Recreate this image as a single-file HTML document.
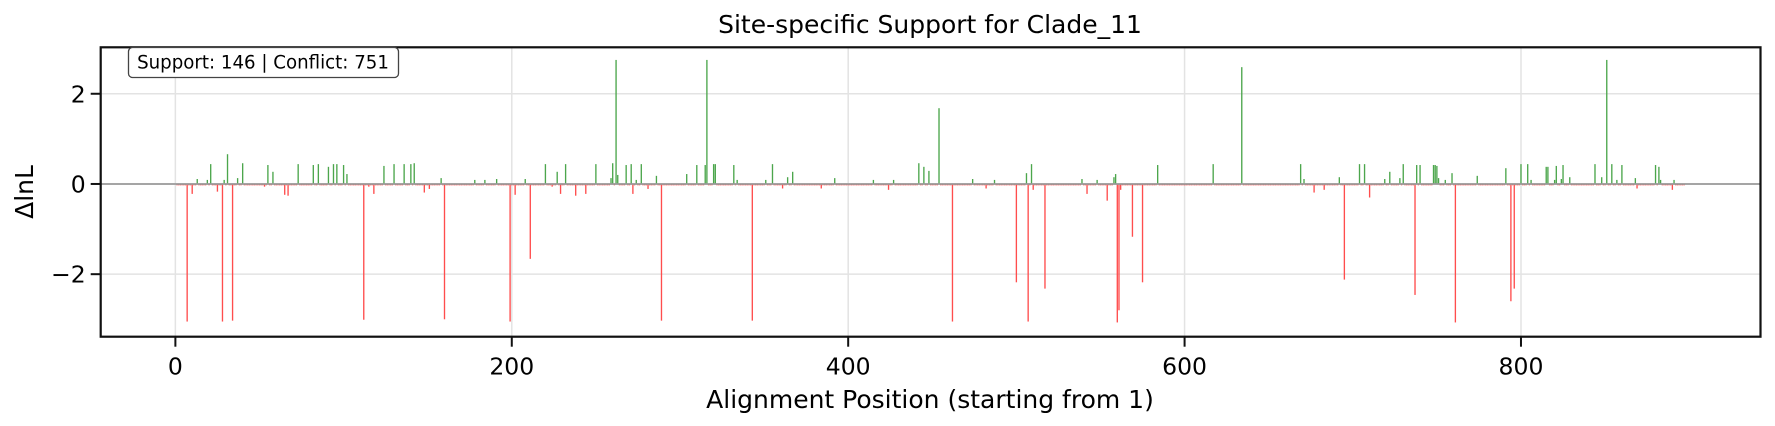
<!DOCTYPE html>
<html><head><meta charset="utf-8"><style>
html,body{margin:0;padding:0;background:#fff;}
svg{display:block;font-family:"DejaVu Sans","Liberation Sans",sans-serif;}
</style></head><body>
<svg id="chart" width="1775" height="426" viewBox="0 0 1775 426" xmlns="http://www.w3.org/2000/svg">
<text x="930" y="33" text-anchor="middle" font-size="25" fill="#000">Site-specific Support for Clade_11</text>
<g id="grid"></g>
<g id="bars"></g>
<g id="axes"></g>
<text transform="translate(33,192) rotate(-90)" text-anchor="middle" font-size="25" fill="#000">ΔlnL</text>
<text x="930" y="408" text-anchor="middle" font-size="25" fill="#000">Alignment Position (starting from 1)</text>
<g>
<rect x="128.5" y="47.5" width="270" height="30" rx="4" fill="#fff" stroke="#444" stroke-width="1.3"/>
<text x="263" y="68.5" text-anchor="middle" font-size="18.2" fill="#000">Support: 146 | Conflict: 751</text>
</g>
</svg>
<script>
const sitePositions = [7,10,13,19,21,25,28,29,31,34,37,40,53,55,58,65,67,73,82,85,91,94,96,100,102,112,115,118,124,130,136,140,142,148,151,158,160,178,184,191,199,202,208,211,220,224,227,229,232,238,244,250,259,260,262,263,268,271,272,274,277,281,286,289,304,310,315,316,320,321,332,334,343,351,355,361,364,367,384,392,415,424,427,442,445,448,454,462,474,482,487,500,506,507,509,510,517,539,542,548,554,558,559,560,561,562,569,575,584,617,634,669,671,677,683,692,695,704,707,710,719,722,728,730,737,738,740,748,749,750,751,755,759,761,774,791,794,796,800,804,806,815,816,820,821,824,825,829,844,848,851,854,857,860,868,869,880,882,883,890,891];
const siteValues = [-3.05,-0.22,0.11,0.09,0.44,-0.17,-3.05,0.09,0.66,-3.03,0.13,0.46,-0.06,0.42,0.27,-0.24,-0.26,0.44,0.42,0.44,0.38,0.44,0.44,0.42,0.22,-3.01,-0.06,-0.22,0.40,0.44,0.44,0.44,0.46,-0.19,-0.11,0.13,-3.0,0.09,0.09,0.11,-3.05,-0.24,0.11,-1.66,0.44,-0.06,0.27,-0.22,0.44,-0.26,-0.22,0.44,0.13,0.46,2.75,0.2,0.42,0.44,-0.22,0.09,0.44,-0.11,0.18,-3.03,0.22,0.42,0.42,2.75,0.44,0.44,0.42,0.09,-3.03,0.09,0.44,-0.1,0.15,0.27,-0.1,0.13,0.09,-0.13,0.09,0.46,0.38,0.29,1.68,-3.05,0.11,-0.1,0.09,-2.18,0.24,-3.05,0.44,-0.13,-2.32,0.11,-0.22,0.09,-0.37,0.15,0.22,-3.07,-2.8,-0.13,-1.17,-2.18,0.42,0.44,2.59,0.44,0.11,-0.19,-0.13,0.15,-2.12,0.44,0.44,-0.30,0.11,0.27,0.13,0.44,-2.46,0.42,0.42,0.42,0.42,0.40,0.13,0.09,0.24,-3.07,0.18,0.35,-2.6,-2.32,0.44,0.44,0.09,0.38,0.38,0.09,0.40,0.11,0.42,0.15,0.44,0.15,2.75,0.44,0.09,0.42,0.13,-0.1,0.42,0.38,0.09,-0.13,0.09];
const siteCount = [897];
const baselineValue = [-0.03];
const xTicks = [0,200,400,600,800];
const yTicks = [-2,0,2];
const yTickLabels = ["\u22122","0","2"];

const NS='http://www.w3.org/2000/svg';
const L=100.7,R=1760.5,T=47.3,B=336.7;
const xMin=-44.4,xMax=942.4,yMin=-3.386,yMax=3.03;
function xs(v){return L+(v-xMin)/(xMax-xMin)*(R-L);}
function ys(v){return T+(yMax-v)/(yMax-yMin)*(B-T);}
function mk(tag,attrs,parent){const e=document.createElementNS(NS,tag);for(const k in attrs)e.setAttribute(k,attrs[k]);parent.appendChild(e);return e;}
const grid=document.getElementById('grid'),bars=document.getElementById('bars'),axes=document.getElementById('axes');
xTicks.forEach(t=>{
  const g=mk('line',{x1:xs(t),x2:xs(t),y1:T,y2:B,stroke:'#e3e3e3','stroke-width':1.5},grid);
  
  
});
yTicks.forEach(t=>{
  const g=mk('line',{x1:L,x2:R,y1:ys(t),y2:ys(t),stroke:'#e3e3e3','stroke-width':1.5},grid);
  
  
});
const valMap={};
sitePositions.forEach((p,i)=>{valMap[p]=siteValues[i];});
const bw=0.8;
for(let p=1;p<=siteCount[0];p++){
  const v=(p in valMap)?valMap[p]:baselineValue[0];
  const x0=xs(p-bw/2),x1=xs(p+bw/2);
  const y0=ys(Math.max(v,0)),y1=ys(Math.min(v,0));
  const r=mk('rect',{x:x0,y:y0,width:x1-x0,height:Math.max(y1-y0,0.5),fill:v>=0?'#4ca64c':'#ff4d4d'},bars);
  
  
}
const zl=mk('line',{x1:L,x2:R,y1:ys(0),y2:ys(0),stroke:'#999','stroke-width':2,'stroke-opacity':0.85},bars);


const frame=mk('rect',{x:L,y:T,width:R-L,height:B-T,fill:'none',stroke:'#111','stroke-width':2.2},axes);


xTicks.forEach(t=>{
  const tk=mk('line',{x1:xs(t),x2:xs(t),y1:B,y2:B+10,stroke:'#111','stroke-width':2},axes);
  
  
  const lb=mk('text',{x:xs(t),y:B+38,'text-anchor':'middle','font-size':23.5,fill:'#000'},axes);
  lb.textContent=String(t);
  
  
});
yTicks.forEach((t,i)=>{
  const tk=mk('line',{x1:L-10,x2:L,y1:ys(t),y2:ys(t),stroke:'#111','stroke-width':2},axes);
  
  
  const lb=mk('text',{x:L-15,y:ys(t)+8.5,'text-anchor':'end','font-size':23.5,fill:'#000'},axes);
  lb.textContent=yTickLabels[i];
  
  
});
</script>
</body></html>
